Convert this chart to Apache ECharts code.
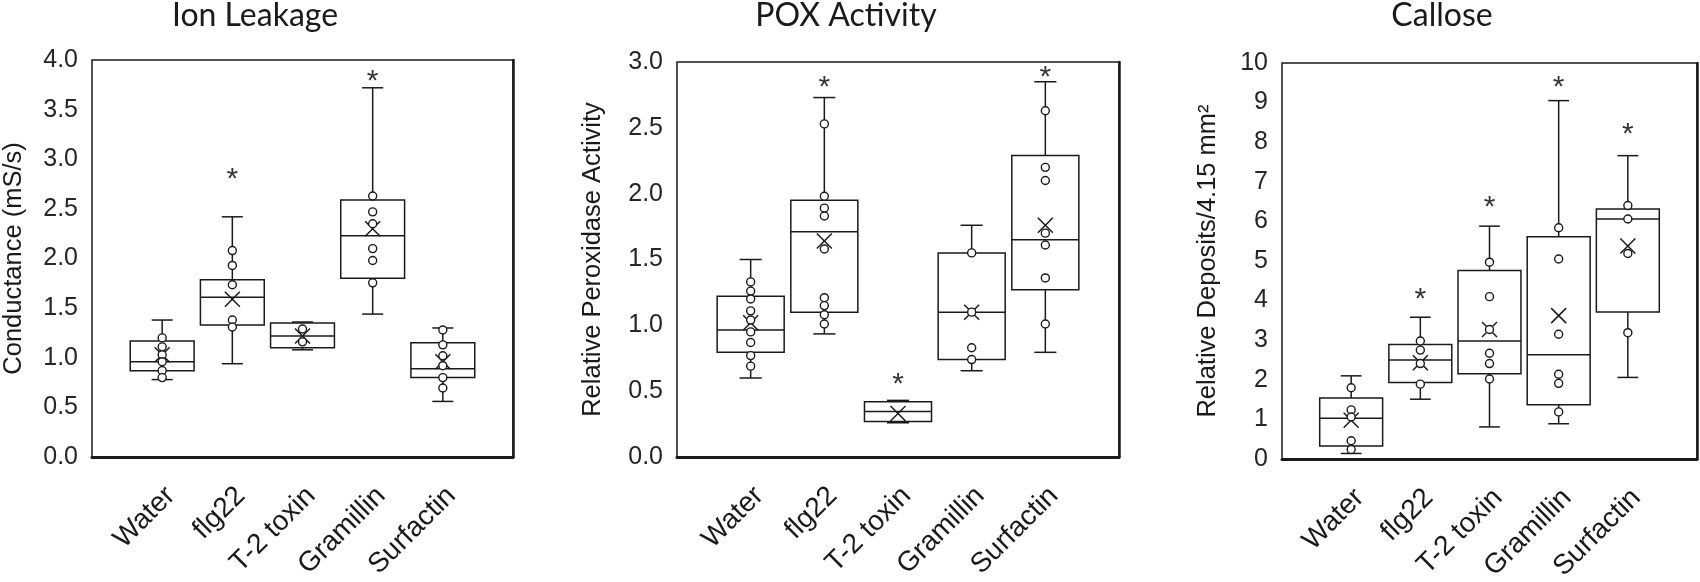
<!DOCTYPE html>
<html>
<head>
<meta charset="utf-8">
<script src="https://cdn.jsdelivr.net/npm/echarts@6/dist/echarts.min.js"></script>
<style>
  html, body { margin: 0; padding: 0; background: #fff; }
  #chart { width: 1700px; height: 582px; }
</style>
</head>
<body>
<div id="chart"></div>
<script>
const categories = ['Water', 'flg22', 'T-2 toxin', 'Gramillin', 'Surfactin'];

// box stats per treatment: [min, Q1, median, Q3, max]
const ionStats = [
  [0.78, 0.87, 0.96, 1.17, 1.38],
  [0.94, 1.33, 1.61, 1.785, 2.42],
  [1.08, 1.10, 1.22, 1.35, 1.36],
  [1.44, 1.80, 2.23, 2.59, 3.72],
  [0.56, 0.80, 0.89, 1.15, 1.30]
];
const ionMeans = [1.03, 1.59, 1.22, 2.30, 0.96];
const ionPoints = [
  [1.20, 1.11, 1.03, 0.96, 0.87, 0.80],
  [2.08, 1.93, 1.735, 1.38, 1.31],
  [1.29, 1.16],
  [2.63, 2.47, 2.35, 2.10, 1.98, 1.755],
  [1.28, 1.13, 1.02, 0.92, 0.80, 0.695]
];
const ionStars = [null, 2.86, null, 3.85, null];

const poxStats = [
  [0.60, 0.795, 0.965, 1.22, 1.50],
  [0.935, 1.10, 1.71, 1.95, 2.73],
  [0.26, 0.27, 0.345, 0.42, 0.43],
  [0.655, 0.74, 1.10, 1.55, 1.76],
  [0.795, 1.27, 1.65, 2.29, 2.85]
];
const poxMeans = [1.02, 1.64, 0.33, 1.10, 1.76];
const poxPoints = [
  [1.33, 1.26, 1.20, 1.11, 1.04, 0.95, 0.87, 0.77, 0.69],
  [2.53, 1.98, 1.89, 1.83, 1.58, 1.21, 1.15, 1.08, 1.01],
  [],
  [1.55, 1.10, 0.83, 0.74],
  [2.63, 2.20, 2.10, 1.70, 1.61, 1.36, 1.01]
];
const poxStars = [null, 2.86, 0.60, null, 2.93];

const calloseStats = [
  [0.14, 0.33, 1.03, 1.54, 2.10],
  [1.51, 1.93, 2.50, 2.89, 3.58],
  [0.81, 2.15, 2.98, 4.76, 5.88],
  [0.89, 1.37, 2.63, 5.61, 9.05],
  [2.06, 3.71, 6.06, 6.31, 7.66]
];
const calloseMeans = [0.98, 2.43, 3.27, 3.62, 5.38];
const callosePoints = [
  [1.80, 1.24, 1.06, 0.46, 0.24],
  [2.98, 2.75, 2.41, 1.89],
  [4.97, 4.10, 3.27, 2.67, 2.41, 2.02],
  [5.84, 5.05, 3.15, 2.14, 1.91, 1.19],
  [6.40, 6.06, 5.19, 3.19]
];
const calloseStars = [null, 4.2, 6.53, 9.56, 8.36];

const INK = '#1a1a1a';
const AXIS_FONT = 'Liberation Sans';
const CAT_FONT_SIZE = 28;

const panels = [
  { title: 'Ion Leakage', yName: 'Conductance (mS/s)', stats: ionStats, means: ionMeans,
    points: ionPoints, stars: ionStars, max: 4, step: 0.5, digits: 1,
    grid: { left: 92, top: 60, width: 421, height: 397 }, titleX: 255, nameX: 14 },
  { title: 'POX Activity', yName: 'Relative Peroxidase Activity', stats: poxStats, means: poxMeans,
    points: poxPoints, stars: poxStars, max: 3, step: 0.5, digits: 1,
    grid: { left: 677, top: 62, width: 442, height: 395 }, titleX: 846, nameX: 593 },
  { title: 'Callose', yName: 'Relative Deposits/4.15 mm\u00B2', stats: calloseStats, means: calloseMeans,
    points: callosePoints, stars: calloseStars, max: 10, step: 1, digits: 0,
    grid: { left: 1282, top: 63, width: 415, height: 396 }, titleX: 1442, nameX: 1208 }
];

// Excel style box: narrow whisker caps, white box, median line, X for the mean
function renderBox(params, api) {
  const x = api.value(0);
  const lo = api.coord([x, api.value(1)]);
  const q1 = api.coord([x, api.value(2)]);
  const md = api.coord([x, api.value(3)]);
  const q3 = api.coord([x, api.value(4)]);
  const hi = api.coord([x, api.value(5)]);
  const mn = api.coord([x, api.value(6)]);
  const band = api.size([1, 0])[0];
  const hw = band * 0.455;
  const cw = band * 0.15;
  const xs = 7.5;
  const cx = lo[0];
  const ls = { stroke: INK, lineWidth: 1.5, fill: null };
  const seg = (x1, y1, x2, y2) => ({ type: 'line', shape: { x1, y1, x2, y2 }, style: ls });
  return {
    type: 'group',
    children: [
      seg(cx, hi[1], cx, q3[1]),
      seg(cx, q1[1], cx, lo[1]),
      seg(cx - cw, hi[1], cx + cw, hi[1]),
      seg(cx - cw, lo[1], cx + cw, lo[1]),
      { type: 'rect', shape: { x: cx - hw, y: q3[1], width: hw * 2, height: q1[1] - q3[1] },
        style: { stroke: INK, lineWidth: 1.5, fill: '#fff' } },
      seg(cx - hw, md[1], cx + hw, md[1]),
      seg(cx - xs, mn[1] - xs, cx + xs, mn[1] + xs),
      seg(cx - xs, mn[1] + xs, cx + xs, mn[1] - xs)
    ]
  };
}

const option = {
  backgroundColor: '#fff',
  animation: false,
  grid: [],
  xAxis: [],
  yAxis: [],
  series: []
};

panels.forEach((p, k) => {
  option.grid.push(Object.assign({
    show: true, borderColor: INK, borderWidth: 1.5, backgroundColor: '#fff', containLabel: false
  }, p.grid));

  option.xAxis.push({
    type: 'category',
    gridIndex: k,
    data: ['', ...categories, ''],
    boundaryGap: false,
    axisLine: { show: true, lineStyle: { color: INK, width: 3 } },
    axisTick: { show: false },
    splitLine: { show: false },
    // labels are placed below as rotated text, Excel style
    axisLabel: { show: false }
  });

  option.yAxis.push({
    type: 'value',
    gridIndex: k,
    min: 0, max: p.max, interval: p.step,
    axisLine: { show: false },
    axisTick: { show: false },
    splitLine: { show: false },
    axisLabel: {
      margin: 14, fontFamily: AXIS_FONT, fontSize: 25, color: '#262626',
      formatter: v => v.toFixed(p.digits)
    }
  });
  // right edge of the frame is drawn heavier
  option.yAxis.push({
    type: 'value',
    gridIndex: k,
    position: 'right',
    min: 0, max: p.max, interval: p.step,
    axisLine: { show: true, lineStyle: { color: INK, width: 2.5 } },
    axisTick: { show: false },
    splitLine: { show: false },
    axisLabel: { show: false }
  });

  const yIndex = k * 2;

  option.series.push({
    type: 'custom',
    xAxisIndex: k,
    yAxisIndex: yIndex,
    renderItem: renderBox,
    encode: { x: 0, y: [1, 2, 3, 4, 5, 6] },
    z: 2,
    data: p.stats.map((s, i) => [i + 1, ...s, p.means[i]])
  });

  const pts = [];
  p.points.forEach((arr, i) => arr.forEach(v => pts.push([i + 1, v])));
  option.series.push({
    type: 'scatter',
    xAxisIndex: k,
    yAxisIndex: yIndex,
    symbol: 'circle',
    symbolSize: 8,
    itemStyle: { color: '#fff', borderColor: INK, borderWidth: 1.4, opacity: 1 },
    z: 3,
    data: pts
  });

  const stars = [];
  p.stars.forEach((v, i) => { if (v != null) stars.push([i + 1, v]); });
  option.series.push({
    type: 'scatter',
    xAxisIndex: k,
    yAxisIndex: yIndex,
    symbolSize: 1,
    itemStyle: { color: 'rgba(0,0,0,0)' },
    label: {
      show: true, position: 'inside', formatter: '*', offset: [0, 7],
      fontFamily: AXIS_FONT, fontSize: 30, color: '#000'
    },
    z: 4,
    data: stars
  });
});

const chart = echarts.init(document.getElementById('chart'), null, { renderer: 'canvas' });
chart.setOption(option);

// titles, axis names and the 45 degree category labels
const graphic = [];
panels.forEach((p, k) => {
  graphic.push({
    type: 'text',
    x: p.titleX, y: 0,
    style: {
      text: p.title, font: '32px Lato', fill: INK,
      textAlign: 'center', textVerticalAlign: 'top', align: 'center', verticalAlign: 'top'
    }
  });
  graphic.push({
    type: 'text',
    x: p.nameX, y: p.grid.top + p.grid.height / 2,
    rotation: Math.PI / 2,
    style: {
      text: p.yName, font: '25.5px "' + AXIS_FONT + '"', fill: INK,
      textAlign: 'center', textVerticalAlign: 'middle', align: 'center', verticalAlign: 'middle'
    }
  });
  const axisY = chart.convertToPixel({ yAxisIndex: k * 2 }, 0);
  categories.forEach(name => {
    const tx = chart.convertToPixel({ xAxisIndex: k }, name);
    graphic.push({
      type: 'text',
      x: tx + 8.5,
      y: axisY + 34.5,
      rotation: Math.PI / 4,
      style: {
        text: name, font: CAT_FONT_SIZE + 'px "' + AXIS_FONT + '"', fill: INK,
        textAlign: 'right', textVerticalAlign: 'middle', align: 'right', verticalAlign: 'middle'
      }
    });
  });
});
chart.setOption({ graphic });
</script>
</body>
</html>
